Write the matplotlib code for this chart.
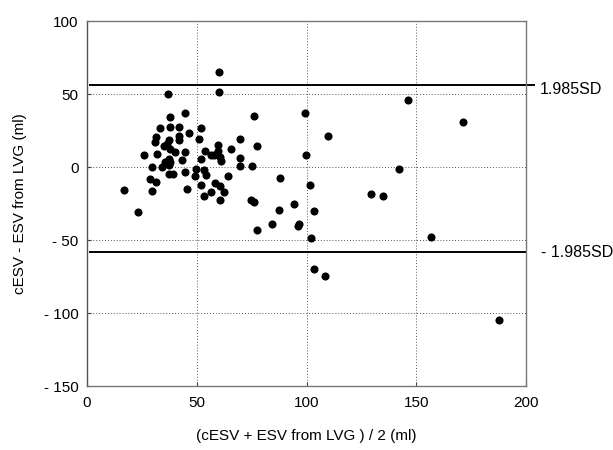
import numpy as np
import matplotlib
matplotlib.use('Agg')
import matplotlib.pyplot as plt

# mean of the two measurements (ml)
mean_vals = [
    16.7, 23.3, 25.8, 28.9, 29.6, 29.6, 31.0, 31.5, 31.9, 31.6,
    33.4, 34.2, 34.9, 35.7, 36.5, 37.0, 37.2, 37.2, 37.2, 38.0,
    38.0, 37.5, 38.0, 38.0, 39.0, 40.3, 41.8, 41.8, 41.8, 43.3,
    44.5, 44.8, 44.8, 45.6, 46.3, 49.4, 49.7, 50.9, 51.7, 52.0,
    52.1, 53.2, 53.5, 53.8, 54.4, 56.3, 56.6, 58.0, 58.5, 59.9,
    59.9, 60.0, 60.0, 60.4, 60.5, 60.8, 61.1, 62.3, 64.1, 65.4,
    69.9, 69.9, 69.9, 74.8, 75.1, 76.0, 76.0, 77.3, 77.5, 84.4,
    87.3, 88.0, 94.2, 96.0, 96.5, 99.4, 99.7, 101.5, 101.9, 103.5,
    103.5, 108.5, 109.7, 129.5, 135.0, 142.3, 146.4, 156.9, 171.3, 187.9,
]
# difference cESV - ESV from LVG (ml)
diff_vals = [
    -15.7, -31.0, 8.4, -8.0, 0.0, -16.2, 17.0, 20.5, 9.1, -10.3,
    27.0, 0.0, 14.5, 3.4, 16.0, 49.9, 5.7, 1.8, -4.6, 34.5,
    27.5, 18.7, 12.5, 3.4, -4.6, 10.3, 27.3, 21.5, 18.3, 4.6,
    10.3, 37.2, -3.4, -15.3, 23.5, -6.2, -1.1, 19.4, -12.1, 5.3,
    26.9, -19.9, -2.3, 10.8, -5.3, 8.0, -16.7, 8.4, -11.0, 15.3,
    10.8, 65.4, 51.5, -22.4, -13.0, 6.8, 3.9, -16.7, -6.2, 12.1,
    19.0, 6.4, 0.7, -22.8, 0.7, -24.0, 34.7, 14.4, -43.0, -39.2,
    -29.4, -7.3, -25.5, -40.0, -39.0, 36.9, 8.0, -12.5, -48.3, -30.0,
    -69.7, -74.5, 21.0, -18.5, -19.6, -1.1, 45.8, -48.1, 30.8, -104.8,
]

upper_limit = 56.2
lower_limit = -57.9
limit_labels = ['1.985SD', '- 1.985SD']

x_ticks = [0, 50, 100, 150, 200]
y_ticks = [-150, -100, -50, 0, 50, 100]
y_tick_labels = ['- 150', '- 100', '- 50', '0', '50', '100']

plt.rcParams['font.family'] = ['Liberation Sans', 'DejaVu Sans']

fig = plt.figure(figsize=(6.13, 4.5), dpi=100)
ax = fig.add_axes([0.142, 0.142, 0.716, 0.811])

ax.scatter(mean_vals, diff_vals, s=34, color='black', zorder=3, linewidths=0)

# limits of agreement; the upper one runs a little past the right spine
ax.plot([1.5, 203.5], [upper_limit, upper_limit], color='black', linewidth=1.4, clip_on=False, zorder=2)
ax.plot([1.5, 200], [lower_limit, lower_limit], color='black', linewidth=1.4, clip_on=False, zorder=2)
ax.text(206.4, upper_limit - 2.7, limit_labels[0], fontsize=11.5, va='center', ha='left')
ax.text(206.8, lower_limit - 0.8, limit_labels[1], fontsize=11.5, va='center', ha='left')

ax.set_xlim(0, 200)
ax.set_ylim(-150, 100)
ax.set_xticks(x_ticks)
ax.set_yticks(y_ticks)
ax.set_yticklabels(y_tick_labels)
ax.grid(True, linestyle=(0, (1, 2)), color='#555555', linewidth=0.7)
ax.tick_params(axis='both', direction='in', length=3, width=0.8, labelsize=11, color='#444444')
ax.tick_params(axis='x', pad=7)
ax.tick_params(axis='y', pad=6)

for side in ['top', 'right']:
    ax.spines[side].set_linestyle((0, (1, 1)))
    ax.spines[side].set_color('#777777')
    ax.spines[side].set_linewidth(1.0)
ax.spines['left'].set_color('#555555')
ax.spines['bottom'].set_color('#777777')
ax.spines['left'].set_linewidth(1.0)
ax.spines['bottom'].set_linewidth(1.0)

ax.set_ylabel('cESV - ESV from LVG (ml)', fontsize=11, labelpad=12)
ax.set_xlabel('(cESV + ESV from LVG ) / 2 (ml)', fontsize=11, labelpad=14)

fig.savefig('out.png', dpi=100)
